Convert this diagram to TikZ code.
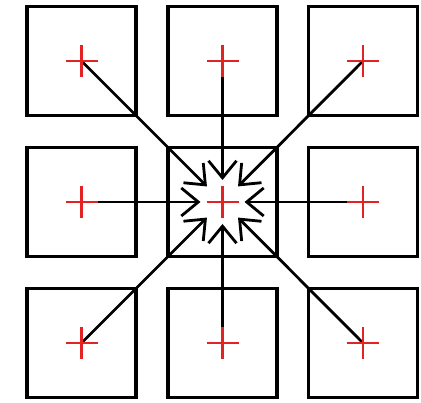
\documentclass[tikz,border=0pt]{standalone}
\usetikzlibrary{arrows.meta}
\definecolor{crossred}{RGB}{225,35,35}
\begin{document}
\begin{tikzpicture}[x=1pt,y=-1pt,
  cell/.style={draw=black,line width=3.8pt,minimum size=109pt,inner sep=0pt,outer sep=0pt},
  pull/.style={draw=black,line width=2.8pt,shorten >=22pt,
    -{Straight Barb[length=17pt,width=28pt,line width=2.8pt]}},
  redcross/.style={draw=crossred,line width=2.8pt}]
\useasboundingbox (0,0) rectangle (421,403);
\foreach \c/\x in {1/81.5,2/222.5,3/363}{
  \foreach \r/\y in {1/61,2/202,3/343}{
    \node[cell] (b\r\c) at (\x,\y) {};
  }
}
\foreach \n in {11,12,13,21,23,31,32,33}{
  \draw[pull] (b\n.center) -- (b22.center);
}
\foreach \n in {11,12,13,21,22,23,31,32,33}{
  \draw[redcross] ([xshift=-16pt]b\n.center) -- ([xshift=16pt]b\n.center);
  \draw[redcross] ([yshift=-16pt]b\n.center) -- ([yshift=16pt]b\n.center);
}
\end{tikzpicture}
\end{document}
